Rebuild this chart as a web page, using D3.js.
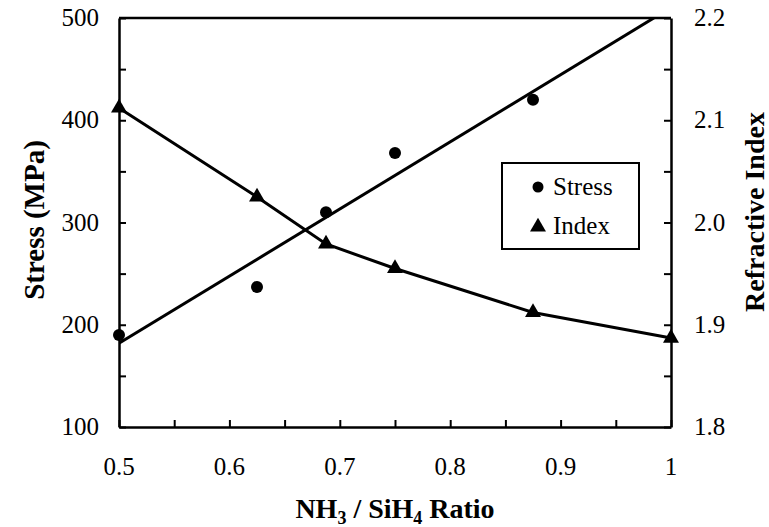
<!DOCTYPE html>
<html><head><meta charset="utf-8"><script src="https://cdn.jsdelivr.net/npm/d3@7"></script></head>
<body><script>
// data
var ratios      = [0.5, 0.625, 0.6875, 0.75, 0.875, 1.0];
var stressX     = [0.5, 0.625, 0.6875, 0.75, 0.875];
var stressVals  = [190, 237, 310, 368, 420];
var indexVals   = [2.112, 2.025, 1.979, 1.955, 1.912, 1.887];
var xTicks      = [0.5, 0.6, 0.7, 0.8, 0.9, 1];
var stressTicks = [100, 200, 300, 400, 500];
var indexTicks  = [1.8, 1.9, 2.0, 2.1, 2.2];

d3.select("body").style("margin", "0px");

// set the dimensions and margins of the graph
var margin = {top: 18, right: 98, bottom: 100, left: 119},
    width = 769 - margin.left - margin.right,
    height = 527 - margin.top - margin.bottom;

var x = d3.scaleLinear().domain([0.5, 1]).range([0, width]);
var yL = d3.scaleLinear().domain([100, 500]).range([height, 0]);
var yR = d3.scaleLinear().domain([1.8, 2.2]).range([height, 0]);

var base = d3.select("body").append("svg")
    .attr("width", 769)
    .attr("height", 527)
    .style("display", "block");

var svg = base.append("g")
    .attr("transform", "translate(" + margin.left + "," + margin.top + ")");

base.append("defs").append("clipPath").attr("id", "clip")
  .append("rect").attr("width", width).attr("height", height);

function label(sel, size, bold) {
  sel.style("font-family", "'Liberation Serif'")
     .style("font-size", size + "px");
  if (bold) sel.style("font-weight", "bold");
}

// axes: ticks point inward, labels drawn separately
function styleAxis(g) {
  g.attr("font-family", null).attr("font-size", null);
  g.selectAll("path").attr("stroke", "#000").attr("stroke-width", 2.5);
  g.selectAll("line").attr("stroke", "#000").attr("stroke-width", 2);
  g.selectAll("text").remove();
}

svg.append("g")
    .attr("transform", "translate(0," + height + ")")
    .call(d3.axisBottom(x).tickValues(d3.range(0.5, 1.001, 0.05)).tickSize(-7).tickSizeOuter(0))
    .call(styleAxis);

svg.append("g")
    .call(d3.axisLeft(yL).tickValues(d3.range(100, 501, 50)).tickSize(-7).tickSizeOuter(0))
    .call(styleAxis);

svg.append("g")
    .attr("transform", "translate(" + width + ",0)")
    .call(d3.axisRight(yR).tickValues(d3.range(1.8, 2.2001, 0.05)).tickSize(-7).tickSizeOuter(0))
    .call(styleAxis);

// top border
svg.append("line")
    .attr("x1", 0).attr("x2", width).attr("y1", 0).attr("y2", 0)
    .attr("stroke", "#000").attr("stroke-width", 2.5);

// tick labels
base.selectAll(".xl").data(xTicks).enter().append("text")
    .attr("x", function(d) { return margin.left + x(d); })
    .attr("y", margin.top + height + 48)
    .attr("text-anchor", "middle")
    .call(label, 25)
    .text(function(d) { return d === 1 ? "1" : d.toFixed(1); });

base.selectAll(".yl").data(stressTicks).enter().append("text")
    .attr("x", margin.left - 20)
    .attr("y", function(d) { return margin.top + yL(d) + 8; })
    .attr("text-anchor", "end")
    .call(label, 25)
    .text(function(d) { return d; });

base.selectAll(".yr").data(indexTicks).enter().append("text")
    .attr("x", margin.left + width + 23)
    .attr("y", function(d) { return margin.top + yR(d) + 8; })
    .attr("text-anchor", "start")
    .call(label, 25)
    .text(function(d) { return d.toFixed(1); });

// axis titles
var xt = base.append("text")
    .attr("x", margin.left + width / 2)
    .attr("y", 518)
    .attr("text-anchor", "middle")
    .call(label, 28, true);
xt.append("tspan").text("NH");
xt.append("tspan").attr("dy", 6).style("font-size", "18px").text("3");
xt.append("tspan").attr("dy", -6).text(" / SiH");
xt.append("tspan").attr("dy", 6).style("font-size", "18px").text("4");
xt.append("tspan").attr("dy", -6).text(" Ratio");

base.append("text")
    .attr("transform", "translate(44,220) rotate(-90)")
    .attr("text-anchor", "middle")
    .call(label, 29, true)
    .text("Stress (MPa)");

base.append("text")
    .attr("transform", "translate(764,212) rotate(-90)")
    .attr("text-anchor", "middle")
    .call(label, 28, true)
    .text("Refractive Index");

// linear trend line for stress (least squares over the points)
var mx = d3.mean(stressX), my = d3.mean(stressVals);
var sxy = d3.sum(stressX, function(v, i) { return (v - mx) * (stressVals[i] - my); });
var sxx = d3.sum(stressX, function(v) { return (v - mx) * (v - mx); });
var slope = sxy / sxx, icpt = my - slope * mx;

svg.append("line")
    .attr("clip-path", "url(#clip)")
    .attr("x1", x(0.5)).attr("y1", yL(icpt + slope * 0.5))
    .attr("x2", x(1)).attr("y2", yL(icpt + slope * 1))
    .attr("stroke", "#000").attr("stroke-width", 3);

// index line through points
var indexLine = d3.line()
    .x(function(d, i) { return x(ratios[i]); })
    .y(function(d) { return yR(d); });

svg.append("path")
    .datum(indexVals)
    .attr("d", indexLine)
    .attr("fill", "none")
    .attr("stroke", "#000")
    .attr("stroke-width", 3);

// markers
svg.selectAll(".dot").data(stressVals).enter().append("circle")
    .attr("cx", function(d, i) { return x(stressX[i]); })
    .attr("cy", function(d) { return yL(d); })
    .attr("r", 6)
    .attr("fill", "#000");

var tri = d3.symbol().type(d3.symbolTriangle).size(110);
svg.selectAll(".tri").data(indexVals).enter().append("path")
    .attr("d", tri)
    .attr("transform", function(d, i) { return "translate(" + x(ratios[i]) + "," + yR(d) + ")"; })
    .attr("fill", "#000");

// legend
var lg = base.append("g").attr("transform", "translate(502,163)");
lg.append("rect")
    .attr("width", 137).attr("height", 86)
    .attr("fill", "#fff").attr("stroke", "#000").attr("stroke-width", 2);
lg.append("circle").attr("cx", 36).attr("cy", 24).attr("r", 5.5).attr("fill", "#000");
lg.append("path").attr("d", tri).attr("transform", "translate(36,64)").attr("fill", "#000");
lg.append("text").attr("x", 51).attr("y", 32)
    .call(label, 25).text("Stress");
lg.append("text").attr("x", 51).attr("y", 71)
    .call(label, 25).text("Index");
</script></body></html>
